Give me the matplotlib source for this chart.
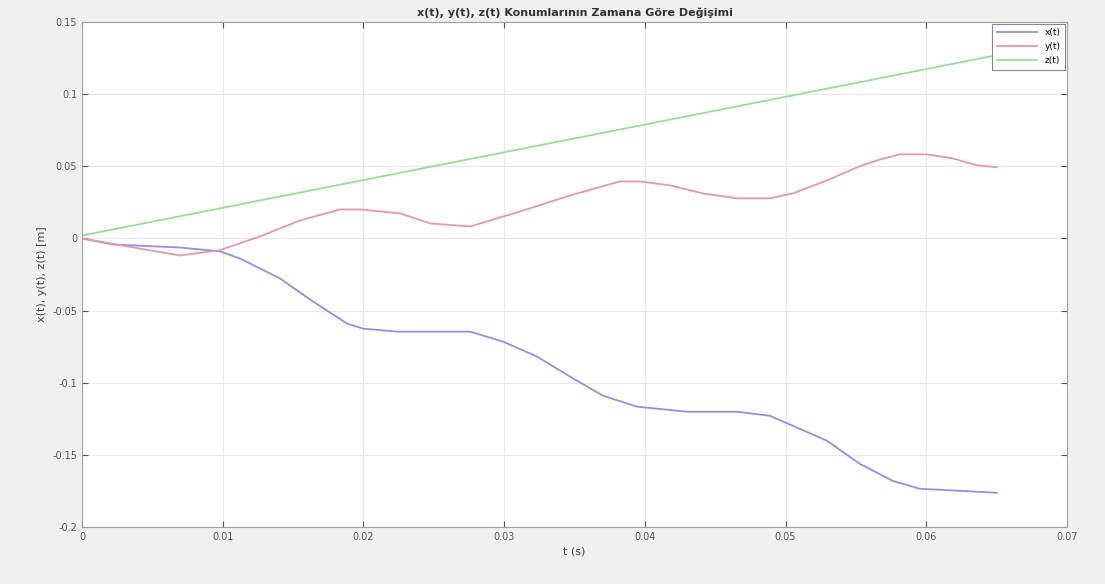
import matplotlib
matplotlib.use("Agg")
import matplotlib.pyplot as plt

# --- data ---
t_x = [0, 0.0022, 0.00697, 0.00981, 0.01123, 0.01408, 0.01642, 0.01883, 0.01997,
       0.02238, 0.02474, 0.02758, 0.02992, 0.03234, 0.03469, 0.03702, 0.03945,
       0.043, 0.04655, 0.04888, 0.05051, 0.05294, 0.05527, 0.05761, 0.05953,
       0.06237, 0.06501]
x_vals = [0, -0.0042, -0.0063, -0.009, -0.0139, -0.0278, -0.0437, -0.059, -0.0625,
          -0.0646, -0.0646, -0.0646, -0.0715, -0.0819, -0.0958, -0.109, -0.1166,
          -0.1201, -0.1201, -0.1229, -0.1298, -0.1402, -0.1562, -0.168, -0.1735,
          -0.1749, -0.1763]

t_y = [0, 0.0035, 0.00697, 0.00974, 0.01265, 0.0155, 0.01836, 0.01978, 0.02262,
       0.02475, 0.02759, 0.03114, 0.03469, 0.03824, 0.03966, 0.04179, 0.04412,
       0.04655, 0.04888, 0.05051, 0.05294, 0.05527, 0.05649, 0.05811, 0.06004,
       0.06187, 0.06359, 0.06501]
y_vals = [0, -0.006, -0.0118, -0.0083, 0.0014, 0.0125, 0.0201, 0.0201, 0.0173,
          0.0104, 0.0083, 0.0187, 0.0298, 0.0395, 0.0395, 0.0368, 0.0312,
          0.0278, 0.0278, 0.0312, 0.0402, 0.05, 0.0541, 0.0583, 0.0583,
          0.0555, 0.0507, 0.0493]

t_z = [0, 0.065]
z_vals = [0.002, 0.127]

labels = ["x(t)", "y(t)", "z(t)"]
xticks = [0, 0.01, 0.02, 0.03, 0.04, 0.05, 0.06, 0.07]
yticks = [-0.2, -0.15, -0.1, -0.05, 0, 0.05, 0.1, 0.15]

fig = plt.figure(figsize=(11.05, 5.84), dpi=100, facecolor="#f0f0f0")
ax = fig.add_axes([82 / 1105, 57 / 584, (1067 - 82) / 1105, (527 - 22) / 584])
ax.set_facecolor("white")

ax.plot(t_x, x_vals, color="#9090e6", lw=1.3, label=labels[0])
ax.plot(t_y, y_vals, color="#e698a6", lw=1.3, label=labels[1])
ax.plot(t_z, z_vals, color="#96e096", lw=1.3, label=labels[2])

ax.set_xlim(0, 0.07)
ax.set_ylim(-0.2, 0.15)
ax.set_xticks(xticks)
ax.set_xticklabels([f"{v:g}" for v in xticks])
ax.set_yticks(yticks)
ax.set_yticklabels([f"{v:g}" for v in yticks])
ax.tick_params(direction="in", labelsize=7, colors="#555555", length=4,
               top=True, right=True, labeltop=False, labelright=False)
ax.grid(True, color="#e8e8e8", lw=0.8)
for s in ax.spines.values():
    s.set_color("#a0a0a0")

ax.set_title("x(t), y(t), z(t) Konumlarının Zamana Göre Değişimi",
             fontsize=8, fontweight="bold", color="#333333", pad=4)
ax.set_xlabel("t (s)", fontsize=8, color="#444444", labelpad=3)
ax.set_ylabel("x(t), y(t), z(t) [m]", fontsize=8, color="#444444", labelpad=4)

leg = ax.legend(loc="upper right", fontsize=6.5, handlelength=4.5, fancybox=False,
                borderaxespad=0.2, framealpha=1, edgecolor="#888888",
                labelspacing=0.55, borderpad=0.5)
leg.get_frame().set_linewidth(0.8)

fig.savefig("out.png", dpi=100, facecolor=fig.get_facecolor())
